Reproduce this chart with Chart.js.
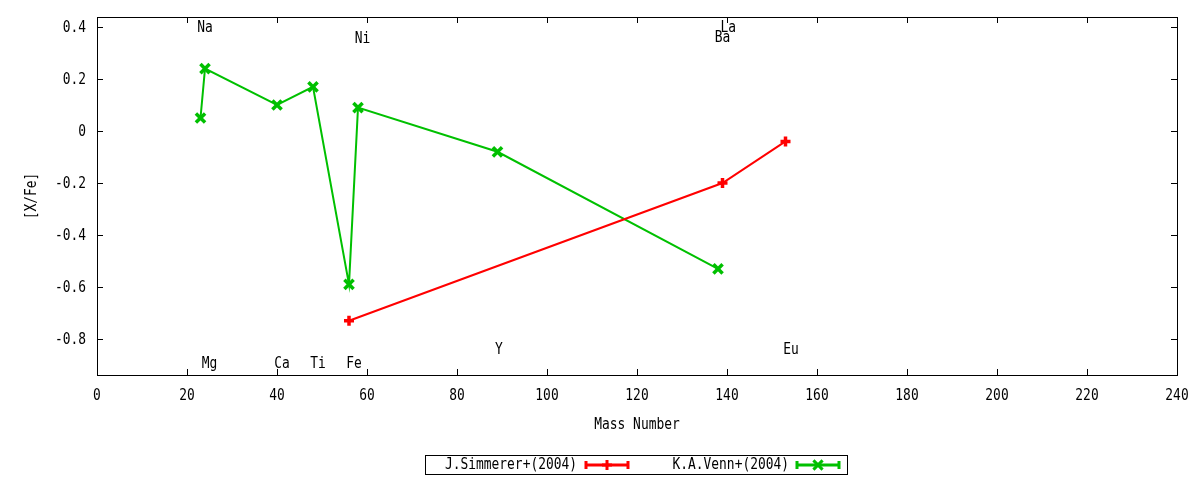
<!DOCTYPE html>
<html>
<head>
<meta charset="utf-8">
<script src="https://cdn.jsdelivr.net/npm/chart.js@4"></script>
<style>
html,body{margin:0;padding:0;background:#fff;}
#wrap{width:1200px;height:480px;position:relative;}
</style>
</head>
<body>
<div id="wrap"><canvas id="c" width="1200" height="480"></canvas></div>
<script>
// ---- data ----
const simMass = [56, 139, 153];
const simVal  = [-0.73, -0.20, -0.04];
const vennMass = [23, 24, 40, 48, 56, 58, 89, 138];
const vennVal  = [0.05, 0.24, 0.10, 0.17, -0.59, 0.09, -0.08, -0.53];
const seriesNames = ['J.Simmerer+(2004)', 'K.A.Venn+(2004)'];
const elemNames = ['Na', 'Mg', 'Ca', 'Ti', 'Fe', 'Ni', 'Y', 'Ba', 'La', 'Eu'];
const elemX     = [24, 25, 41.1, 49.1, 57.1, 59, 89.3, 139, 140.3, 154.2];
const elemY     = [0.40, -0.894, -0.894, -0.894, -0.894, 0.358, -0.838, 0.362, 0.40, -0.838];
const xTicks = [0, 20, 40, 60, 80, 100, 120, 140, 160, 180, 200, 220, 240];
const yTicks = [0.4, 0.2, 0, -0.2, -0.4, -0.6, -0.8];
const xTitle = 'Mass Number';
const yTitle = '[X/Fe]';

const FONT = '15px "DejaVu Sans Mono"';
const SX = 0.86;
const RED = '#ff0000', GREEN = '#00c000';

const toPts = (xs, ys) => xs.map((x, i) => ({x: x, y: ys[i]}));
const fmt = v => (Math.abs(v) < 1e-9 ? '0' : String(Math.round(v * 10) / 10));

function txt(ctx, s, x, y, align) {
  ctx.save();
  ctx.translate(x, y + 1);
  ctx.scale(SX, 1);
  ctx.textAlign = align || 'center';
  ctx.textBaseline = 'middle';
  ctx.fillText(s, 0, 0);
  ctx.restore();
}

const framePlugin = {
  id: 'frame',
  afterDatasetsDraw(chart) {
    const ctx = chart.ctx, a = chart.chartArea;
    const xs = chart.scales.x, ys = chart.scales.y;
    ctx.save();
    ctx.strokeStyle = '#000';
    ctx.lineWidth = 1;
    ctx.strokeRect(a.left + 0.5, a.top + 0.5, a.right - a.left, a.bottom - a.top);
    ctx.beginPath();
    const tl = 6;
    xTicks.forEach(v => {
      const px = Math.round(xs.getPixelForValue(v)) + 0.5;
      ctx.moveTo(px, a.bottom); ctx.lineTo(px, a.bottom - tl);
      ctx.moveTo(px, a.top); ctx.lineTo(px, a.top + tl);
    });
    yTicks.forEach(v => {
      const py = Math.round(ys.getPixelForValue(v)) + 0.5;
      ctx.moveTo(a.left, py); ctx.lineTo(a.left + tl, py);
      ctx.moveTo(a.right, py); ctx.lineTo(a.right - tl, py);
    });
    ctx.stroke();
    ctx.fillStyle = '#000';
    ctx.font = FONT;
    xTicks.forEach(v => txt(ctx, fmt(v), xs.getPixelForValue(v), a.bottom + 20, 'center'));
    yTicks.forEach(v => txt(ctx, fmt(v), a.left - 11, ys.getPixelForValue(v), 'right'));
    txt(ctx, xTitle, (a.left + a.right) / 2, a.bottom + 49, 'center');
    ctx.save();
    ctx.translate(32, (a.top + a.bottom) / 2);
    ctx.rotate(-Math.PI / 2);
    txt(ctx, yTitle, 0, -1, 'center');
    ctx.restore();
    elemNames.forEach((n, i) => {
      txt(ctx, n, xs.getPixelForValue(elemX[i]), ys.getPixelForValue(elemY[i]), 'center');
    });
    // legend
    const bx = 425.5, by = 455.5, bw = 422, bh = 19, cy = 465;
    ctx.strokeRect(bx, by, bw, bh);
    const entries = [
      {name: seriesNames[0], tx: 577, l0: 586, l1: 628, color: RED, style: 'cross', r: 5},
      {name: seriesNames[1], tx: 789, l0: 797, l1: 839, color: GREEN, style: 'crossRot', r: 6.5}
    ];
    entries.forEach(e => {
      ctx.fillStyle = '#000';
      txt(ctx, e.name, e.tx, cy - 1, 'right');
      ctx.strokeStyle = e.color;
      ctx.lineWidth = 3;
      ctx.beginPath();
      ctx.moveTo(e.l0, cy); ctx.lineTo(e.l1, cy);
      ctx.moveTo(e.l0, cy - 4); ctx.lineTo(e.l0, cy + 4);
      ctx.moveTo(e.l1, cy - 4); ctx.lineTo(e.l1, cy + 4);
      ctx.stroke();
      Chart.helpers.drawPoint(ctx, {pointStyle: e.style, radius: e.r, borderWidth: 3.5}, (e.l0 + e.l1) / 2, cy);
    });
    ctx.restore();
  }
};

new Chart(document.getElementById('c'), {
  type: 'scatter',
  data: {
    datasets: [
      {
        label: seriesNames[0],
        data: toPts(simMass, simVal),
        showLine: true,
        borderColor: RED,
        backgroundColor: RED,
        borderWidth: 2,
        pointStyle: 'cross',
        pointRadius: 5,
        pointBorderWidth: 3.5,
        pointBorderColor: RED,
        tension: 0
      },
      {
        label: seriesNames[1],
        data: toPts(vennMass, vennVal),
        showLine: true,
        borderColor: GREEN,
        backgroundColor: GREEN,
        borderWidth: 2,
        pointStyle: 'crossRot',
        pointRadius: 6.5,
        pointBorderWidth: 3.5,
        pointBorderColor: GREEN,
        tension: 0
      }
    ]
  },
  options: {
    responsive: false,
    animation: false,
    devicePixelRatio: 1,
    layout: {padding: {left: 0, top: 17, right: 23, bottom: 0}},
    plugins: {legend: {display: false}, tooltip: {enabled: false}},
    scales: {
      x: {
        type: 'linear', min: 0, max: 240,
        grid: {display: false}, border: {display: false},
        ticks: {display: false},
        afterFit: s => { s.height = 105; }
      },
      y: {
        type: 'linear', min: -0.938462, max: 0.438462,
        grid: {display: false}, border: {display: false},
        ticks: {display: false},
        afterFit: s => { s.width = 97; }
      }
    }
  },
  plugins: [framePlugin]
});
</script>
</body>
</html>
